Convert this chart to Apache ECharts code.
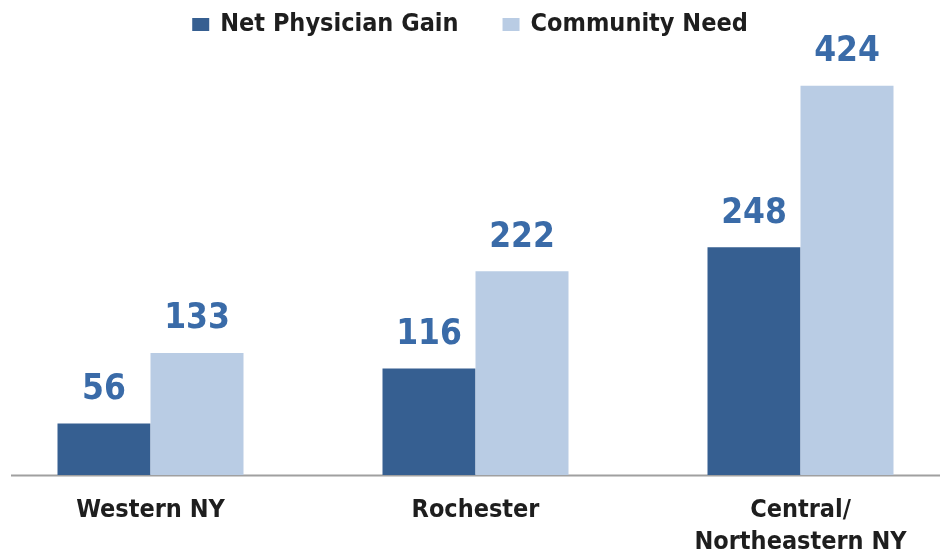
<!DOCTYPE html>
<html>
<head>
<meta charset="utf-8">
<script src="https://cdn.jsdelivr.net/npm/echarts@6/dist/echarts.min.js"></script>
<style>
html, body { margin: 0; padding: 0; background: #fff; }
#chart { width: 940px; height: 555px; }
</style>
</head>
<body>
<div id="chart"></div>
<script>
var regions = ['Western NY', 'Rochester', 'Central/\nNortheastern NY'];
var physicianGain = [56, 116, 248];
var communityNeed = [133, 222, 424];

var fontFam = '"Liberation Sans Narrow", "DejaVu Sans Condensed", sans-serif';

function chartInit(objId) {
	var dom = document.getElementById(objId);
	var myChart = echarts.init(dom, null, {renderer: 'canvas'});
	var labelStyle = {
		show: true,
		position: 'top',
		distance: 16,
		color: '#3a6ba8',
		fontFamily: fontFam,
		fontWeight: 'bold',
		fontSize: 35
	};
	var option = {
		animation: false,
		legend: {
			top: 7,
			left: 'center',
			itemWidth: 17,
			itemHeight: 13,
			itemGap: 44,
			icon: 'rect',
			textStyle: {
				fontFamily: fontFam,
				fontWeight: 'bold',
				fontSize: 25,
				color: '#1e1e1e',
				padding: [0, 0, 0, 6]
			},
			data: ['Net Physician Gain', 'Community Need']
		},
		grid: {
			left: -12,
			width: 975,
			top: 16,
			bottom: 80,
			outerBoundsMode: 'none',
			containLabel: false
		},
		xAxis: {
			type: 'category',
			data: regions,
			axisLine: {show: false},
			axisTick: {show: false},
			axisLabel: {
				margin: 19,
				fontFamily: fontFam,
				fontWeight: 'bold',
				fontSize: 25,
				lineHeight: 32,
				color: '#1e1e1e'
			}
		},
		yAxis: {
			type: 'value',
			min: 0,
			max: 500,
			show: false,
			splitLine: {show: false}
		},
		graphic: [{
			type: 'line',
			shape: {x1: 11, y1: 475.5, x2: 940, y2: 475.5},
			style: {stroke: '#a0a0a0', lineWidth: 2}
		}],
		series: [{
			name: 'Net Physician Gain',
			type: 'bar',
			barWidth: 93,
			barGap: '0%',
			itemStyle: {color: '#365f91'},
			label: labelStyle,
			data: physicianGain
		}, {
			name: 'Community Need',
			type: 'bar',
			barWidth: 93,
			barGap: '0%',
			itemStyle: {color: '#b9cce4'},
			label: labelStyle,
			data: communityNeed
		}]
	};
	myChart.setOption(option, true);
	return myChart;
}

chartInit('chart');
</script>
</body>
</html>
